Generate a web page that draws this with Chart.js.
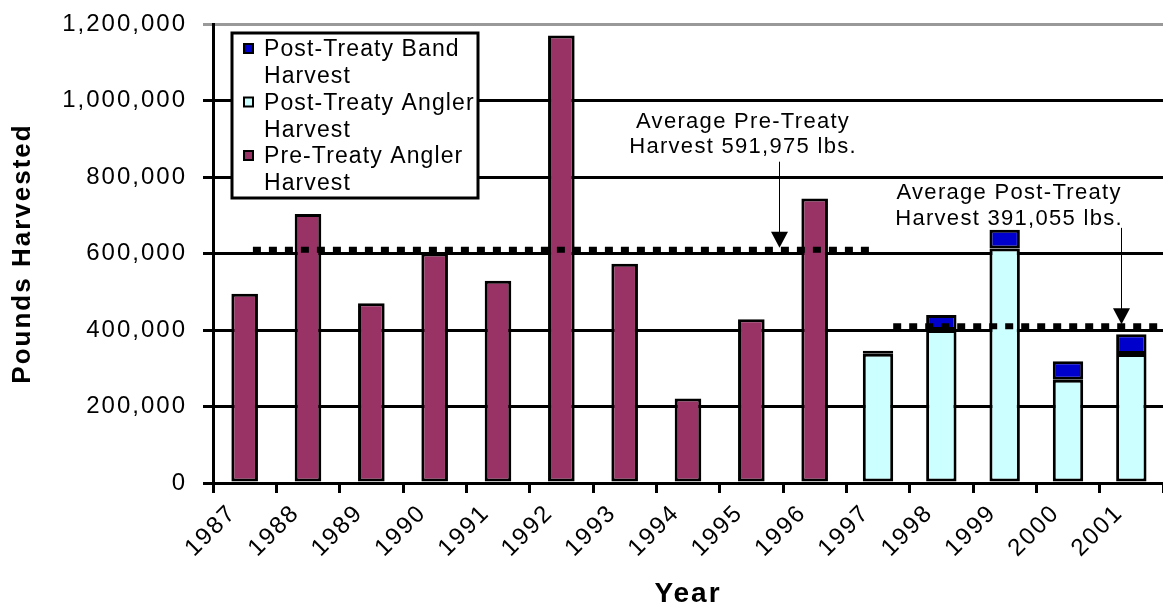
<!DOCTYPE html>
<html>
<head>
<meta charset="utf-8">
<script src="https://cdn.jsdelivr.net/npm/chart.js@4.4.0/dist/chart.umd.min.js"></script>
<style>
  html, body { margin: 0; padding: 0; background: #fff; }
  canvas { display: block; }
</style>
</head>
<body>
<canvas id="harvestChart" width="1163" height="611"></canvas>
<script>
// DATA
const years = ['1987', '1988', '1989', '1990', '1991', '1992', '1993', '1994',
               '1995', '1996', '1997', '1998', '1999', '2000', '2001'];
const preTreatyAngler = [495000, 703000, 470000, 600000, 529000, 1170000, 573000, 221000,
                         428000, 744000, null, null, null, null, null];
const postTreatyAngler = [null, null, null, null, null, null, null, null,
                          null, null, 338000, 400000, 613000, 270000, 337000];
const postTreatyBand = [null, null, null, null, null, null, null, null,
                        null, null, 8000, 39000, 49000, 48000, 52000];
const yTicks = [0, 200000, 400000, 600000, 800000, 1000000, 1200000];

// average lines as drawn (level, span in category units) and their captions
const preAverage = 591975;
const postAverage = 391055;
const preLineLevel = 610000;
const postLineLevel = 410000;
const preLineSpan = [0.63, 10.42];
const postLineSpan = [10.74, 15];

const FONT = "'Liberation Sans', Arial, sans-serif";
const fmt = v => Number(v).toLocaleString('en-US');

// NOTES: text + arrow, placed in chart units
const notes = [
    { lines: ['Average Pre-Treaty', 'Harvest ' + fmt(preAverage) + ' lbs.'],
      textX: 8.37, baseY: [929000, 863000], arrowX: 8.94, arrowTop: 840000, arrowTip: preLineLevel },
    { lines: ['Average Post-Treaty', 'Harvest ' + fmt(postAverage) + ' lbs.'],
      textX: 12.57, baseY: [742000, 675000], arrowX: 14.33, arrowTop: 667000, arrowTip: postLineLevel }
];

// canvas letter spacing (text in the original is set a bit wide)
const spacingPlugin = {
    id: 'spacing',
    beforeUpdate(chart) { chart.ctx.letterSpacing = '2px'; },
    beforeDraw(chart) { chart.ctx.letterSpacing = '2px'; }
};

const notesPlugin = {
    id: 'notes',
    afterDatasetsDraw(chart) {
        const ctx = chart.ctx;
        const xs = chart.scales.xl;
        const ys = chart.scales.y;
        ctx.save();
        ctx.letterSpacing = '1.3px';
        ctx.font = '22px ' + FONT;
        ctx.fillStyle = '#000';
        ctx.strokeStyle = '#000';
        ctx.textAlign = 'center';
        ctx.textBaseline = 'alphabetic';
        notes.forEach(n => {
            const tx = xs.getPixelForValue(n.textX);
            n.lines.forEach((t, i) => ctx.fillText(t, tx, ys.getPixelForValue(n.baseY[i])));
            const ax = Math.round(xs.getPixelForValue(n.arrowX)) + 0.5;
            const top = ys.getPixelForValue(n.arrowTop);
            const tip = ys.getPixelForValue(n.arrowTip) - 2;
            ctx.lineWidth = 1;
            ctx.beginPath();
            ctx.moveTo(ax, top);
            ctx.lineTo(ax, tip - 14);
            ctx.stroke();
            ctx.beginPath();
            ctx.moveTo(ax - 8.5, tip - 16);
            ctx.lineTo(ax + 8.5, tip - 16);
            ctx.lineTo(ax, tip);
            ctx.closePath();
            ctx.fill();
        });
        ctx.restore();
    }
};

// LEGEND (two-line entries, boxed)
const legendPlugin = {
    id: 'boxLegend',
    afterDraw(chart) {
        const ctx = chart.ctx;
        const box = { x: 232, y: 33, w: 246, h: 165 };
        ctx.save();
        ctx.fillStyle = '#fff';
        ctx.fillRect(box.x, box.y, box.w, box.h);
        ctx.lineWidth = 3;
        ctx.strokeStyle = '#000';
        ctx.strokeRect(box.x, box.y, box.w, box.h);
        ctx.letterSpacing = '1.1px';
        ctx.font = '23px ' + FONT;
        ctx.textAlign = 'left';
        ctx.textBaseline = 'alphabetic';
        const bars = chart.data.datasets.filter(d => d.type === 'bar').reverse();
        bars.forEach((d, i) => {
            const cy = 48 + i * 53.5;
            ctx.fillStyle = '#000';
            ctx.fillRect(243, cy - 5, 11, 11);
            ctx.fillStyle = d.backgroundColor;
            ctx.fillRect(245, cy - 3, 7, 7);
            const cut = d.label.lastIndexOf(' ');
            const parts = [d.label.slice(0, cut), d.label.slice(cut + 1)];
            ctx.fillStyle = '#000';
            parts.forEach((p, j) => ctx.fillText(p, 264, cy + 8 + j * 27));
        });
        ctx.restore();
    }
};

const barStyle = { borderColor: '#000', borderWidth: 3, borderSkipped: false, grouped: false,
                   categoryPercentage: 1, stack: 'harvest', order: 1 };

new Chart(document.getElementById('harvestChart'), {
    type: 'bar',
    data: {
        labels: years,
        datasets: [
            { type: 'bar', label: 'Pre-Treaty Angler Harvest', data: preTreatyAngler,
              backgroundColor: '#993366', barPercentage: 0.42, ...barStyle },
            { type: 'bar', label: 'Post-Treaty Angler Harvest', data: postTreatyAngler,
              backgroundColor: '#CCFFFF', barPercentage: 0.48, ...barStyle },
            { type: 'bar', label: 'Post-Treaty Band Harvest', data: postTreatyBand,
              backgroundColor: '#0000CC', barPercentage: 0.48, ...barStyle },
            { type: 'line', label: 'pre avg', xAxisID: 'xl', stack: 'preLine', order: 0,
              data: preLineSpan.map(x => ({ x, y: preLineLevel })),
              borderColor: '#000', borderWidth: 6, borderDash: [8, 8], pointRadius: 0 },
            { type: 'line', label: 'post avg', xAxisID: 'xl', stack: 'postLine', order: 0,
              data: postLineSpan.map(x => ({ x, y: postLineLevel })),
              borderColor: '#000', borderWidth: 6, borderDash: [8, 8], pointRadius: 0 }
        ]
    },
    options: {
        responsive: false,
        animation: false,
        layout: { padding: { top: 24, right: 0, left: 0, bottom: 0 } },
        plugins: {
            legend: { display: false },
            tooltip: { enabled: false }
        },
        scales: {
            x: {
                stacked: true,
                grid: { offset: true, drawOnChartArea: false, drawTicks: true,
                        tickLength: 10, lineWidth: 3, color: '#000' },
                border: { display: true, color: '#000', width: 3 },
                ticks: { color: '#000', font: { family: FONT, size: 24 }, labelOffset: -12,
                         minRotation: 45, maxRotation: 45, padding: 6, autoSkip: false },
                title: { display: true, text: 'Year', color: '#000',
                         font: { family: FONT, size: 28, weight: 'bold' },
                         padding: { top: 0, bottom: 0 } },
                afterFit: s => { s.height = 128; }
            },
            xl: {
                type: 'linear', display: false, offset: false, min: 0, max: 15, position: 'bottom'
            },
            y: {
                stacked: true,
                min: 0,
                max: 1200000,
                afterBuildTicks: s => { s.ticks = yTicks.map(v => ({ value: v })); },
                grid: { lineWidth: 3, tickLength: 10,
                        color: c => (c.tick && c.tick.value === 1200000 ? '#999999' : '#000') },
                border: { display: true, color: '#000', width: 3 },
                ticks: { color: '#000', font: { family: FONT, size: 24 }, padding: 16,
                         callback: v => fmt(v) },
                title: { display: true, text: 'Pounds Harvested', color: '#000',
                         font: { family: FONT, size: 26, weight: 'bold' },
                         padding: { top: 7, bottom: 0 } },
                afterFit: s => { s.width = 213; s.paddingTop = 0; s.paddingBottom = 0; }
            }
        }
    },
    plugins: [spacingPlugin, notesPlugin, legendPlugin]
});
</script>
</body>
</html>
